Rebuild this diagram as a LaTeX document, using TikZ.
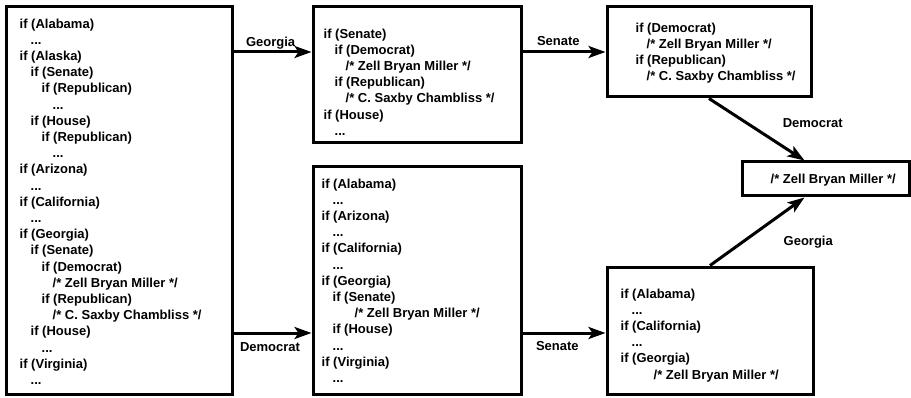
\documentclass[tikz,border=0pt]{standalone}
\usepackage{fontspec}
\setmainfont{Liberation Sans}
\usetikzlibrary{arrows.meta}
\newlength\lvl
\setlength\lvl{11pt}
\newcommand{\ind}[1]{\hspace*{#1\lvl}}

\tikzset{
  box/.style={draw, line width=3pt, inner sep=0pt},
  code/.style={anchor=north west, align=left, inner sep=0pt,
    font=\fontsize{13}{16.2}\selectfont\bfseries},
  lbl/.style={inner sep=0pt, font=\fontsize{13}{16}\selectfont\bfseries},
  link/.style={line width=3pt, -{Stealth[length=17pt,width=12pt,inset=4pt]}},
}

\begin{document}
\begin{tikzpicture}[x=1pt,y=1pt]
  \useasboundingbox (0,0) rectangle (911,397);

  % boxes
  \node[box, minimum width=226pt, minimum height=387pt] (b1) at (119,196.5) {};
  \node[box, minimum width=208pt, minimum height=136pt] (b2) at (417,322) {};
  \node[box, minimum width=204pt, minimum height=90pt] (b3) at (709,345) {};
  \node[box, minimum width=167pt, minimum height=34pt] (fin) at (825.5,218) {};
  \node[box, minimum width=206pt, minimum height=127pt] (b5) at (710,66.5) {};
  \node[box, minimum width=208pt, minimum height=227pt] (b6) at (417,116.5) {};
  \coordinate (low) at ([yshift=-2.5pt]b5.west);

  % texts
  \node[code] (t1) at ([shift={(15pt,-13pt)}]b1.north west) {%
    if (Alabama)\\
    \ind{1}...\\
    if (Alaska)\\
    \ind{1}if (Senate)\\
    \ind{2}if (Republican)\\
    \ind{3}...\\
    \ind{1}if (House)\\
    \ind{2}if (Republican)\\
    \ind{3}...\\
    if (Arizona)\\
    \ind{1}...\\
    if (California)\\
    \ind{1}...\\
    if (Georgia)\\
    \ind{1}if (Senate)\\
    \ind{2}if (Democrat)\\
    \ind{3}/* Zell Bryan Miller */\\
    \ind{2}if (Republican)\\
    \ind{3}/* C. Saxby Chambliss */\\
    \ind{1}if (House)\\
    \ind{2}...\\
    if (Virginia)\\
    \ind{1}...};
  \node[code] (t2) at ([shift={(12pt,-23pt)}]b2.north west) {%
    if (Senate)\\
    \ind{1}if (Democrat)\\
    \ind{2}/* Zell Bryan Miller */\\
    \ind{1}if (Republican)\\
    \ind{2}/* C. Saxby Chambliss */\\
    if (House)\\
    \ind{1}...};
  \node[code] (t3) at ([shift={(30pt,-17pt)}]b3.north west) {%
    if (Democrat)\\
    \ind{1}/* Zell Bryan Miller */\\
    if (Republican)\\
    \ind{1}/* C. Saxby Chambliss */};
  \node[code] (t4) at ([shift={(30pt,-13.5pt)}]fin.north west) {/* Zell Bryan Miller */};
  \node[code] (t5) at ([shift={(15pt,-23pt)}]b5.north west) {%
    if (Alabama)\\
    \ind{1}...\\
    if (California)\\
    \ind{1}...\\
    if (Georgia)\\
    \ind{3}/* Zell Bryan Miller */};
  \node[code] (t6) at ([shift={(10pt,-13pt)}]b6.north west) {%
    if (Alabama)\\
    \ind{1}...\\
    if (Arizona)\\
    \ind{1}...\\
    if (California)\\
    \ind{1}...\\
    if (Georgia)\\
    \ind{1}if (Senate)\\
    \ind{3}/* Zell Bryan Miller */\\
    \ind{1}if (House)\\
    \ind{1}...\\
    if (Virginia)\\
    \ind{1}...};

  % arrows
  \draw[link] (b1.east |- b3.west) -- (b2.west |- b3.west)
    node[lbl, pos=0, anchor=base west, xshift=11pt, yshift=5pt] {Georgia};
  \draw[link] (b2.east |- b3.west) -- (b3.west)
    node[lbl, pos=0, anchor=base west, xshift=13pt, yshift=6pt] {Senate};
  \draw[link] (b1.east |- low) -- (b6.west |- low)
    node[lbl, pos=0, anchor=north west, xshift=5pt, yshift=-8pt] {Democrat};
  \draw[link] (b6.east |- low) -- (b5.west |- low)
    node[lbl, pos=0, anchor=north west, xshift=12pt, yshift=-7pt] {Senate};
  \draw[link] (b3.south) -- ([xshift=-21pt]fin.north)
    node[lbl, midway, xshift=56pt, yshift=6pt] {Democrat};
  \draw[link] (b5.north) -- ([xshift=-21pt]fin.south)
    node[lbl, midway, xshift=51pt, yshift=-11pt] {Georgia};
\end{tikzpicture}
\end{document}
